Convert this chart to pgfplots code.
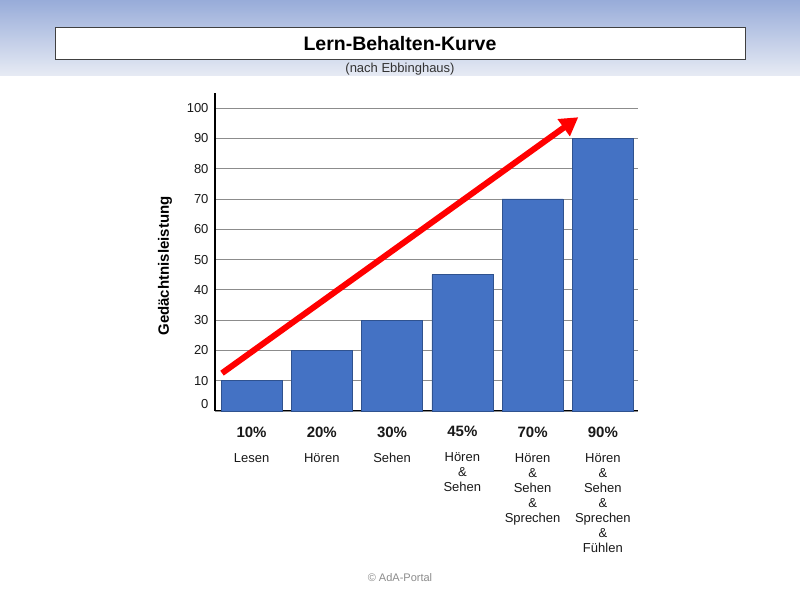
\documentclass[border=0pt]{standalone}
\usepackage{pgfplots}
\pgfplotsset{compat=1.18}
\usepackage{fontspec}
\setmainfont{Liberation Sans}
\usetikzlibrary{arrows.meta}
\definecolor{barblue}{HTML}{4472C4}
\definecolor{baredge}{HTML}{2F528F}
\definecolor{topblue}{HTML}{98ACD9}
\definecolor{lowblue}{HTML}{E7EBF4}
\begin{document}
\begin{tikzpicture}[x=1pt,y=1pt]
\path[use as bounding box] (0,0) rectangle (800,600);
\fill[white] (0,0) rectangle (800,600);
\shade[top color=topblue, bottom color=lowblue] (0,524) rectangle (800,600);
\draw[fill=white, draw=black!75, line width=1pt] (55,540) rectangle (745,572);
\node[font=\bfseries\fontsize{19.5}{22}\selectfont] at (400,556) {Lern-Behalten-Kurve};
\node[font=\fontsize{13}{15}\selectfont, text=black!80] at (400,531) {(nach Ebbinghaus)};
\node[rotate=90, font=\bfseries\fontsize{15}{17}\selectfont] at (165,334) {Gedächtnisleistung};
\node[font=\fontsize{11}{13}\selectfont, text=black!45] at (400,22) {© AdA-Portal};
\begin{axis}[
  at={(215pt,189pt)}, anchor=south west,
  scale only axis, width=423pt, height=318pt,
  ymin=0, ymax=105, xmin=-0.52, xmax=5.5,
  ytick={10,20,...,100},
  extra y ticks={0},
  extra y tick style={yticklabel style={yshift=7pt}},
  xtick={0,...,5},
  xticklabels={
    {\fontsize{15}{17}\selectfont\textbf{10\%}\\[10pt]Lesen},
    {\fontsize{15}{17}\selectfont\textbf{20\%}\\[10pt]Hören},
    {\fontsize{15}{17}\selectfont\textbf{30\%}\\[10pt]Sehen},
    {\fontsize{15}{17}\selectfont\textbf{45\%}\\[10pt]Hören\\\&\\Sehen},
    {\fontsize{15}{17}\selectfont\textbf{70\%}\\[10pt]Hören\\\&\\Sehen\\\&\\Sprechen},
    {\fontsize{15}{17}\selectfont\textbf{90\%}\\[10pt]Hören\\\&\\Sehen\\\&\\Sprechen\\\&\\Fühlen}},
  xticklabel style={align=center, font=\fontsize{13}{15}\selectfont, text=black!90, yshift=-12pt},
  yticklabel style={font=\fontsize{13}{15}\selectfont, text=black!90, xshift=-3pt},
  /pgf/number format/assume math mode=true,
  ymajorgrids,
  grid style={black!45, line width=0.9pt},
  axis x line*=bottom, axis y line*=left,
  axis line style={line width=2pt, -},
  major tick length=0pt,
  ybar, bar width=61pt,
]
\addplot[fill=barblue, draw=baredge, line width=0.6pt] coordinates {(0,10) (1,20) (2,30) (3,45) (4,70) (5,90)};
\draw[red, line width=6pt, -{Triangle[length=18pt,width=20pt]}] (axis cs:-0.42,12.5) -- (axis cs:4.65,97);
\end{axis}
\end{tikzpicture}
\end{document}
